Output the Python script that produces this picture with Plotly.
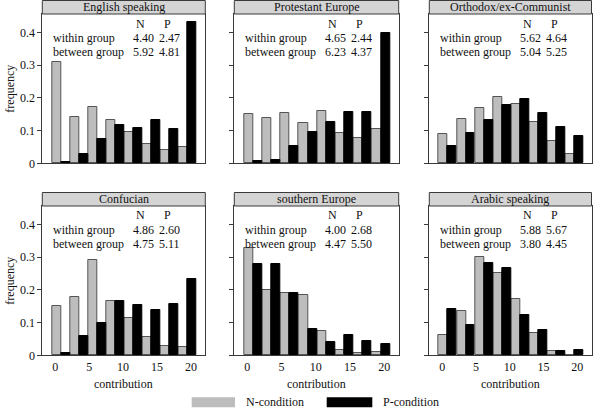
import plotly.graph_objects as go

# ---------------- data ----------------
panels = ["English speaking", "Protestant Europe", "Orthodox/ex-Communist",
          "Confucian", "southern Europe", "Arabic speaking"]
bin_centers = [0.83, 3.5, 6.17, 8.83, 11.5, 14.17, 16.83, 19.5]

n_english = [0.310, 0.142, 0.172, 0.132, 0.095, 0.058, 0.042, 0.050]
p_english = [0.003, 0.028, 0.075, 0.118, 0.108, 0.132, 0.106, 0.434]
n_protestant = [0.151, 0.138, 0.154, 0.124, 0.159, 0.092, 0.078, 0.106]
p_protestant = [0.006, 0.011, 0.053, 0.095, 0.126, 0.157, 0.157, 0.399]
n_orthodox = [0.089, 0.137, 0.168, 0.202, 0.181, 0.126, 0.069, 0.028]
p_orthodox = [0.053, 0.093, 0.134, 0.177, 0.198, 0.153, 0.112, 0.084]
n_confucian = [0.150, 0.179, 0.291, 0.165, 0.113, 0.056, 0.027, 0.025]
p_confucian = [0.008, 0.059, 0.099, 0.165, 0.153, 0.139, 0.156, 0.233]
n_southern = [0.327, 0.201, 0.190, 0.184, 0.075, 0.016, 0.008, 0.010]
p_southern = [0.279, 0.279, 0.190, 0.079, 0.042, 0.061, 0.045, 0.034]
n_arabic = [0.061, 0.137, 0.302, 0.253, 0.173, 0.069, 0.013, 0.000]
p_arabic = [0.142, 0.093, 0.282, 0.266, 0.122, 0.077, 0.013, 0.017]

n_values = [n_english, n_protestant, n_orthodox, n_confucian, n_southern, n_arabic]
p_values = [p_english, p_protestant, p_orthodox, p_confucian, p_southern, p_arabic]

within_n = ["4.40", "4.65", "5.62", "4.86", "4.00", "5.88"]
within_p = ["2.47", "2.44", "4.64", "2.60", "2.68", "5.67"]
between_n = ["5.92", "6.23", "5.04", "4.75", "4.47", "3.80"]
between_p = ["4.81", "4.37", "5.25", "5.11", "5.50", "4.45"]

x_ticks = [0, 5, 10, 15, 20]
y_ticks = [0, 0.1, 0.2, 0.3, 0.4]
y_tick_labels = ["0", "0.1", "0.2", "0.3", "0.4"]

# ---------------- layout geometry ----------------
W, H = 593, 409
col_left = [42.3, 234.3, 429.3]
col_width = [163.0, 164.4, 162.2]
row_top = [14.0, 206.0]
row_bottom = [163.3, 355.3]
STRIP = 14.0

FONT = "Liberation Serif, serif"
FRAME = "#3a3a3a"
GREY = "#bdbdbd"
STRIP_FILL = "#d4d4d4"


def px(x):
    return x / W


def py(y):
    return 1 - y / H


fig = go.Figure()
annotations = []
shapes = []

for i, name in enumerate(panels):
    r, c = divmod(i, 3)
    ax = "" if i == 0 else str(i + 1)
    xa, ya = "x" + ax, "y" + ax
    fig.add_trace(go.Bar(x=bin_centers, y=n_values[i], xaxis=xa, yaxis=ya,
                         marker=dict(color=GREY, line=dict(color="#555555", width=1)),
                         name="N-condition", showlegend=False))
    fig.add_trace(go.Bar(x=bin_centers, y=p_values[i], xaxis=xa, yaxis=ya,
                         marker=dict(color="#000000", line=dict(color="#000000", width=1)),
                         name="P-condition", showlegend=False))
    L, Wd = col_left[c], col_width[c]
    T, B = row_top[r], row_bottom[r]
    fig.layout["xaxis" + ax] = dict(
        domain=[px(L), px(L + Wd)], range=[-1.9, 22.1], anchor=ya,
        showgrid=False, zeroline=False, showline=True, mirror=True,
        linecolor=FRAME, linewidth=1,
        tickvals=x_ticks, showticklabels=(r == 1), ticks="",
        tickfont=dict(family=FONT, size=12, color="#111"))
    fig.layout["yaxis" + ax] = dict(
        domain=[py(B), py(T)], range=[0, 0.457], anchor=xa,
        showgrid=False, zeroline=False, showline=True, mirror=True,
        linecolor=FRAME, linewidth=1,
        tickvals=y_ticks, ticktext=y_tick_labels, showticklabels=(c == 0),
        ticks="outside", ticklen=4, tickcolor=FRAME,
        tickfont=dict(family=FONT, size=12, color="#111"))
    shapes.append(dict(type="rect", xref="paper", yref="paper",
                       x0=px(L), x1=px(L + Wd), y0=py(T), y1=py(T - STRIP + 0.5),
                       fillcolor=STRIP_FILL, line=dict(color=FRAME, width=1)))
    annotations.append(dict(text=name, xref="paper", yref="paper",
                            x=px(L + Wd / 2), y=py(T - STRIP / 2 + 0.3),
                            xanchor="center", yanchor="middle", showarrow=False,
                            font=dict(family=FONT, size=12, color="#111")))

    def txt(t, x, y, anchor="left"):
        annotations.append(dict(text=t, xref="paper", yref="paper",
                                x=px(x), y=py(y), xanchor=anchor, yanchor="middle",
                                showarrow=False,
                                font=dict(family=FONT, size=12, color="#111")))
    txt("N", L + 98.5, T + 9.5, "center")
    txt("P", L + 125.0, T + 9.5, "center")
    txt("within group", L + 9.0, T + 23.7)
    txt("between group", L + 9.0, T + 37.7)
    txt(within_n[i], L + 88.5, T + 23.7)
    txt(within_p[i], L + 114.8, T + 23.7)
    txt(between_n[i], L + 88.5, T + 37.7)
    txt(between_p[i], L + 114.8, T + 37.7)

for r in range(2):
    annotations.append(dict(text="frequency", xref="paper", yref="paper",
                            x=px(10), y=py((row_top[r] + row_bottom[r]) / 2),
                            textangle=-90, xanchor="center", yanchor="middle",
                            showarrow=False, font=dict(family=FONT, size=12, color="#111")))
for c in range(3):
    annotations.append(dict(text="contribution", xref="paper", yref="paper",
                            x=px(col_left[c] + col_width[c] / 2), y=py(383.5),
                            xanchor="center", yanchor="middle",
                            showarrow=False, font=dict(family=FONT, size=12, color="#111")))

shapes.append(dict(type="rect", xref="paper", yref="paper",
                   x0=px(191.7), x1=px(235), y0=py(407.3), y1=py(397.3),
                   fillcolor=GREY, line=dict(width=0)))
shapes.append(dict(type="rect", xref="paper", yref="paper",
                   x0=px(326.7), x1=px(372.3), y0=py(407.3), y1=py(397.3),
                   fillcolor="#000000", line=dict(width=0)))
annotations.append(dict(text="N-condition", xref="paper", yref="paper",
                        x=px(243.5), y=py(402.3), xanchor="left", yanchor="middle",
                        showarrow=False, font=dict(family=FONT, size=12, color="#111")))
annotations.append(dict(text="P-condition", xref="paper", yref="paper",
                        x=px(381.0), y=py(402.3), xanchor="left", yanchor="middle",
                        showarrow=False, font=dict(family=FONT, size=12, color="#111")))

fig.update_layout(width=W, height=H,
                  margin=dict(l=0, r=0, t=0, b=0, pad=0, autoexpand=False),
                  paper_bgcolor="white", plot_bgcolor="white",
                  barmode="group", bargap=0, bargroupgap=0,
                  showlegend=False, shapes=shapes, annotations=annotations,
                  font=dict(family=FONT, size=12, color="#111"))

fig.write_html("out.html", config={"displayModeBar": False},
               post_script="document.body.style.margin='0';")
